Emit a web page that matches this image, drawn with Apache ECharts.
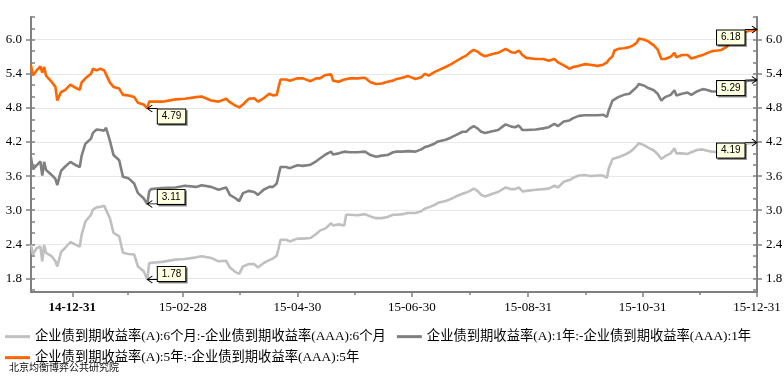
<!DOCTYPE html>
<html>
<head>
<meta charset="utf-8">
<script src="https://cdn.jsdelivr.net/npm/echarts@6/dist/echarts.min.js"></script>
<style>
  html, body { margin: 0; padding: 0; background: #fff; }
  #chart { width: 784px; height: 383px; }
</style>
</head>
<body>
<div id="chart"></div>
<script>
// Trading dates (sampled) for the credit-spread series
const dates = [
  '2014-12-09','2014-12-10','2014-12-12','2014-12-14','2014-12-15','2014-12-16','2014-12-17','2014-12-20','2014-12-22','2014-12-23',
  '2014-12-25','2014-12-27','2014-12-30','2015-01-02','2015-01-04','2015-01-05','2015-01-07','2015-01-10','2015-01-11','2015-01-13',
  '2015-01-15','2015-01-17','2015-01-18','2015-01-20','2015-01-22','2015-01-25','2015-01-27','2015-01-30','2015-02-02','2015-02-04',
  '2015-02-07','2015-02-09','2015-02-10','2015-02-11','2015-02-17','2015-02-24','2015-03-01','2015-03-07','2015-03-10','2015-03-15',
  '2015-03-19',
  '2015-03-20','2015-03-23','2015-03-25','2015-03-28','2015-03-30','2015-04-01','2015-04-04','2015-04-07','2015-04-09','2015-04-12',
  '2015-04-15','2015-04-17','2015-04-19','2015-04-20','2015-04-21','2015-04-24','2015-04-26','2015-04-30','2015-05-03','2015-05-07',
  '2015-05-10','2015-05-12','2015-05-15','2015-05-18','2015-05-19','2015-05-22','2015-05-25','2015-05-26','2015-05-28','2015-06-01',
  '2015-06-05','2015-06-08','2015-06-11','2015-06-14','2015-06-17','2015-06-20','2015-06-22',
  '2015-06-25','2015-06-28','2015-07-02','2015-07-05','2015-07-07','2015-07-09','2015-07-12','2015-07-14','2015-07-18','2015-07-21',
  '2015-07-24','2015-07-27','2015-07-29','2015-07-31','2015-08-02','2015-08-04','2015-08-06','2015-08-08','2015-08-12','2015-08-15',
  '2015-08-19','2015-08-22','2015-08-24','2015-08-26','2015-08-28','2015-08-30','2015-09-04','2015-09-08','2015-09-11','2015-09-14',
  '2015-09-16','2015-09-19','2015-09-22','2015-09-24','2015-09-27','2015-09-30',
  '2015-10-03','2015-10-07','2015-10-10','2015-10-12','2015-10-13','2015-10-15','2015-10-16','2015-10-18','2015-10-21','2015-10-24',
  '2015-10-26','2015-10-28','2015-10-29','2015-11-01','2015-11-03','2015-11-06','2015-11-08','2015-11-10','2015-11-12','2015-11-15',
  '2015-11-17','2015-11-18','2015-11-21','2015-11-24','2015-11-26','2015-11-29','2015-12-02','2015-12-04','2015-12-07','2015-12-10',
  '2015-12-12','2015-12-15','2015-12-18','2015-12-20','2015-12-24','2015-12-27','2015-12-31'
];

// A-rated minus AAA-rated yield to maturity, 6 months
const spread6m = [
  2.39,2.22,2.33,2.36,2.10,2.39,2.25,2.19,2.10,2.01,2.26,2.33,2.44,2.39,2.36,2.57,2.80,2.92,3.01,3.05,
  3.06,3.08,3.08,2.86,2.60,2.54,2.25,2.23,2.22,2.01,1.93,1.78,2.07,2.07,2.09,2.13,2.14,2.17,2.19,2.16,2.10,
  2.07,2.11,1.99,1.91,1.88,2.01,2.05,2.05,1.99,2.07,2.12,2.15,2.20,2.33,2.48,2.48,2.45,2.50,2.50,2.51,
  2.58,2.64,2.68,2.77,2.73,2.75,2.73,2.92,2.92,2.91,2.93,2.89,2.86,2.86,2.88,2.92,2.92,
  2.93,2.95,2.95,2.98,3.03,3.05,3.09,3.13,3.16,3.20,3.25,3.29,3.31,3.34,3.38,3.34,3.27,3.24,3.29,3.32,
  3.40,3.37,3.37,3.40,3.33,3.34,3.36,3.37,3.38,3.43,3.40,3.50,3.53,3.57,3.61,3.62,
  3.60,3.61,3.61,3.57,3.74,3.90,3.91,3.93,3.97,4.02,4.07,4.14,4.18,4.14,4.10,4.05,3.99,3.90,3.95,4.00,
  4.09,4.00,4.00,3.99,4.02,4.06,4.07,4.05,4.03,4.02,4.04,4.08,4.12,4.15,4.17,4.18,4.19
];

// A-rated minus AAA-rated yield to maturity, 1 year
const spread1y = [
  3.93,3.72,3.79,3.86,3.61,3.85,3.71,3.62,3.55,3.44,3.69,3.76,3.85,3.79,3.76,3.96,4.17,4.26,4.36,4.42,
  4.41,4.40,4.45,4.23,3.97,3.88,3.59,3.56,3.47,3.30,3.21,3.11,3.33,3.37,3.39,3.40,3.43,3.41,3.44,3.41,3.36,
  3.36,3.40,3.27,3.21,3.16,3.30,3.34,3.32,3.27,3.36,3.41,3.41,3.47,3.62,3.76,3.76,3.74,3.79,3.78,3.80,
  3.86,3.91,3.98,4.03,3.98,4.00,4.03,4.03,4.02,4.02,4.03,3.97,3.94,3.96,3.97,4.02,4.03,
  4.03,4.04,4.03,4.07,4.11,4.13,4.17,4.21,4.24,4.28,4.33,4.38,4.38,4.44,4.48,4.44,4.38,4.36,4.39,4.41,
  4.51,4.47,4.46,4.49,4.41,4.41,4.42,4.44,4.46,4.52,4.48,4.56,4.58,4.62,4.66,4.67,
  4.67,4.67,4.68,4.64,4.76,4.93,4.95,4.99,5.03,5.05,5.11,5.17,5.22,5.19,5.15,5.11,5.05,4.93,4.99,5.03,
  5.11,5.02,5.05,5.07,5.03,5.09,5.13,5.12,5.09,5.09,5.11,5.16,5.22,5.25,5.27,5.28,5.29
];

// A-rated minus AAA-rated yield to maturity, 5 years
const spread5y = [
  5.55,5.37,5.46,5.53,5.42,5.52,5.37,5.26,5.17,4.93,5.08,5.11,5.21,5.15,5.12,5.25,5.32,5.40,5.49,5.46,
  5.49,5.46,5.49,5.25,5.17,5.14,5.03,5.02,4.99,4.89,4.86,4.79,4.91,4.89,4.91,4.95,4.96,4.99,5.00,4.93,4.91,
  4.93,4.96,4.90,4.84,4.81,4.86,4.96,4.97,4.91,4.97,5.05,5.02,5.03,5.17,5.30,5.30,5.28,5.32,5.32,5.27,
  5.32,5.32,5.38,5.39,5.28,5.26,5.30,5.31,5.32,5.32,5.33,5.25,5.22,5.23,5.26,5.28,5.31,
  5.33,5.36,5.31,5.34,5.40,5.37,5.43,5.46,5.52,5.57,5.63,5.69,5.72,5.78,5.82,5.79,5.74,5.71,5.75,5.77,
  5.84,5.78,5.77,5.81,5.73,5.68,5.66,5.66,5.63,5.66,5.60,5.55,5.49,5.52,5.54,5.57,
  5.56,5.54,5.56,5.60,5.65,5.71,5.81,5.84,5.85,5.87,5.90,5.95,6.02,6.00,5.97,5.90,5.83,5.66,5.66,5.70,
  5.77,5.69,5.73,5.73,5.67,5.70,5.73,5.76,5.80,5.81,5.82,5.88,6.02,6.08,6.13,6.16,6.18
];

const seriesNames = [
  '企业债到期收益率(A):6个月:-企业债到期收益率(AAA):6个月',
  '企业债到期收益率(A):1年:-企业债到期收益率(AAA):1年',
  '企业债到期收益率(A):5年:-企业债到期收益率(AAA):5年'
];

const xTickDates = ['2014-12-31','2015-02-28','2015-04-30','2015-06-30','2015-08-31','2015-10-31','2015-12-31'];
const yTickValues = [1.8, 2.4, 3.0, 3.6, 4.2, 4.8, 5.4, 6.0];
const sourceNote = '北京均衡博弈公共研究院';

const SERIF = "'Liberation Serif', 'Times New Roman', 'Noto Sans CJK SC', serif";
const LEGEND_FONT = "'Liberation Serif', 'Noto Sans CJK SC', serif";
const AXIS_GRAY = '#808080';

// Dates are placed on a numeric axis as local-time milliseconds
function ts(s) {
  const p = s.split('-').map(Number);
  return new Date(p[0], p[1] - 1, p[2]).getTime();
}
function fmtDate(v) {
  const d = new Date(v);
  const pad = n => (n < 10 ? '0' : '') + n;
  return pad(d.getFullYear() % 100) + '-' + pad(d.getMonth() + 1) + '-' + pad(d.getDate());
}

const dateMs = dates.map(ts);
const xMajor = xTickDates.map(ts);
const xMinor = [];
for (let i = 0; i < xMajor.length - 1; i++) xMinor.push((xMajor[i] + xMajor[i + 1]) / 2);

const Y_MIN = 1.56, Y_MAX = 6.4;
const yMinor = [];
for (let v = 1.6; v <= Y_MAX + 1e-9; v += 0.2) yMinor.push(Math.round(v * 10) / 10);

const ARROW_LEFT = 'path://M0,3.5 L10,3.5 M5,0 L0,3.5 L5,7';
const ARROW_RIGHT = 'path://M0,3.5 L12,3.5 M7,0 L12,3.5 L7,7';

const calloutLabel = {
  show: true,
  distance: 0,
  fontFamily: "'Liberation Sans', Arial, sans-serif",
  fontSize: 10,
  lineHeight: 12,
  color: '#000',
  backgroundColor: '#ffffe1',
  borderColor: '#000',
  borderWidth: 1,
  padding: [1, 4, 1, 4],
  shadowColor: 'rgba(0,0,0,0.4)',
  shadowOffsetX: 1.5,
  shadowOffsetY: 1.5,
  shadowBlur: 0
};

// Arrow + value box at the series minimum and at its last observation
function callouts(values, minDy) {
  let iMin = 0;
  values.forEach((v, i) => { if (v < values[iMin]) iMin = i; });
  const iLast = values.length - 1;
  const minCoord = [dateMs[iMin], values[iMin]];
  const lastCoord = [dateMs[iLast], values[iLast]];
  const arrowStyle = { color: 'transparent', borderColor: '#000', borderWidth: 1 };
  const hidden = { color: 'transparent' };
  return {
    silent: true,
    animation: false,
    data: [
      { coord: minCoord, symbol: ARROW_LEFT, symbolSize: [10, 7], symbolOffset: [5, 0],
        itemStyle: arrowStyle, label: { show: false } },
      { coord: lastCoord, symbol: ARROW_RIGHT, symbolSize: [12, 7], symbolOffset: [-6, 0],
        itemStyle: arrowStyle, label: { show: false } },
      { coord: minCoord, value: values[iMin], symbol: 'circle', symbolSize: 1, itemStyle: hidden,
        label: Object.assign({}, calloutLabel, { position: 'right', offset: [10, minDy],
          formatter: p => Number(p.value).toFixed(2) }) },
      { coord: lastCoord, value: values[iLast], symbol: 'circle', symbolSize: 1, itemStyle: hidden,
        label: Object.assign({}, calloutLabel, { position: 'left', offset: [-12, 8],
          formatter: p => Number(p.value).toFixed(2) }) }
    ]
  };
}

function lineSeries(name, values, color, minDy) {
  return {
    name: name,
    type: 'line',
    xAxisIndex: 0,
    yAxisIndex: 0,
    data: values.map((v, i) => [dateMs[i], v]),
    showSymbol: false,
    symbol: 'none',
    lineStyle: { color: color, width: 2.6 },
    itemStyle: { color: color },
    emphasis: { disabled: true },
    animation: false,
    markPoint: callouts(values, minDy)
  };
}

const axisTextStyle = { fontFamily: SERIF, fontSize: 13, color: '#000' };
const xMin = dateMs[0], xMax = dateMs[dateMs.length - 1];

const chart = echarts.init(document.getElementById('chart'), null, { renderer: 'canvas' });
chart.setOption({
  backgroundColor: '#fff',
  animation: false,
  grid: { left: 31, right: 27, top: 17, bottom: 91, containLabel: false, outerBoundsMode: 'none' },
  xAxis: [
    {
      type: 'value',
      position: 'bottom',
      min: xMin,
      max: xMax,
      axisLine: { show: true, onZero: false, lineStyle: { color: AXIS_GRAY, width: 2 } },
      axisTick: { show: true, customValues: xMajor, length: 5, lineStyle: { color: AXIS_GRAY, width: 1.5 } },
      axisLabel: {
        show: true, customValues: xMajor, margin: 9,
        fontFamily: SERIF, fontSize: 13, color: '#000',
        showMinLabel: true, showMaxLabel: true,
        formatter: (v) => {
          const s = fmtDate(v);
          return v === xMajor[0] ? '{b|' + s + '}' : s;
        },
        rich: { b: { fontFamily: SERIF, fontSize: 13, fontWeight: 'bold', color: '#000' } }
      },
      splitLine: { show: false }
    },
    {
      type: 'value',
      position: 'bottom',
      gridIndex: 0,
      min: xMin,
      max: xMax,
      axisLine: { show: false, onZero: false },
      axisTick: { show: true, customValues: xMinor, length: 3, lineStyle: { color: AXIS_GRAY, width: 1.5 } },
      axisLabel: { show: false },
      splitLine: { show: false }
    }
  ],
  yAxis: [
    {
      type: 'value', position: 'left', min: Y_MIN, max: Y_MAX,
      axisLine: { show: true, onZero: false, lineStyle: { color: AXIS_GRAY, width: 2 } },
      axisTick: { show: true, customValues: yTickValues, length: 5, lineStyle: { color: AXIS_GRAY, width: 1.5 } },
      axisLabel: Object.assign({ customValues: yTickValues, margin: 9, formatter: v => Number(v).toFixed(1) }, axisTextStyle),
      splitLine: { show: true, lineStyle: { color: '#e8e8e8', width: 1 } }
    },
    {
      type: 'value', position: 'left', min: Y_MIN, max: Y_MAX,
      axisLine: { show: false, onZero: false },
      axisTick: { show: true, inside: true, customValues: yMinor, length: 4, lineStyle: { color: AXIS_GRAY, width: 1.5 } },
      axisLabel: { show: false },
      splitLine: { show: false }
    },
    {
      type: 'value', position: 'right', min: Y_MIN, max: Y_MAX,
      axisLine: { show: true, onZero: false, lineStyle: { color: AXIS_GRAY, width: 2 } },
      axisTick: { show: true, customValues: yTickValues, length: 5, lineStyle: { color: AXIS_GRAY, width: 1.5 } },
      axisLabel: Object.assign({ customValues: yTickValues, margin: 9, formatter: v => Number(v).toFixed(1) }, axisTextStyle),
      splitLine: { show: false }
    },
    {
      type: 'value', position: 'right', min: Y_MIN, max: Y_MAX,
      axisLine: { show: false, onZero: false },
      axisTick: { show: true, inside: true, customValues: yMinor, length: 4, lineStyle: { color: AXIS_GRAY, width: 1.5 } },
      axisLabel: { show: false },
      splitLine: { show: false }
    }
  ],
  legend: [
    {
      data: [seriesNames[0], seriesNames[1]],
      left: 0, top: 325, orient: 'horizontal',
      icon: 'rect', itemWidth: 25, itemHeight: 3, itemGap: 11,
      textStyle: { fontFamily: LEGEND_FONT, fontSize: 13.3, color: '#000' },
      selectedMode: false
    },
    {
      data: [seriesNames[2]],
      left: 0, top: 346, orient: 'horizontal',
      icon: 'rect', itemWidth: 25, itemHeight: 3, itemGap: 11,
      textStyle: { fontFamily: LEGEND_FONT, fontSize: 13.3, color: '#000' },
      selectedMode: false
    }
  ],
  title: {
    text: sourceNote,
    left: 9, top: 362,
    padding: 0,
    textStyle: { fontFamily: "'Noto Sans CJK SC', sans-serif", fontSize: 10, fontWeight: 'normal', color: '#111' }
  },
  tooltip: { show: false },
  series: [
    lineSeries(seriesNames[0], spread6m, '#c0c0c0', -5.5),
    lineSeries(seriesNames[1], spread1y, '#808080', -7),
    lineSeries(seriesNames[2], spread5y, '#ff6600', 8)
  ]
});
</script>
</body>
</html>
